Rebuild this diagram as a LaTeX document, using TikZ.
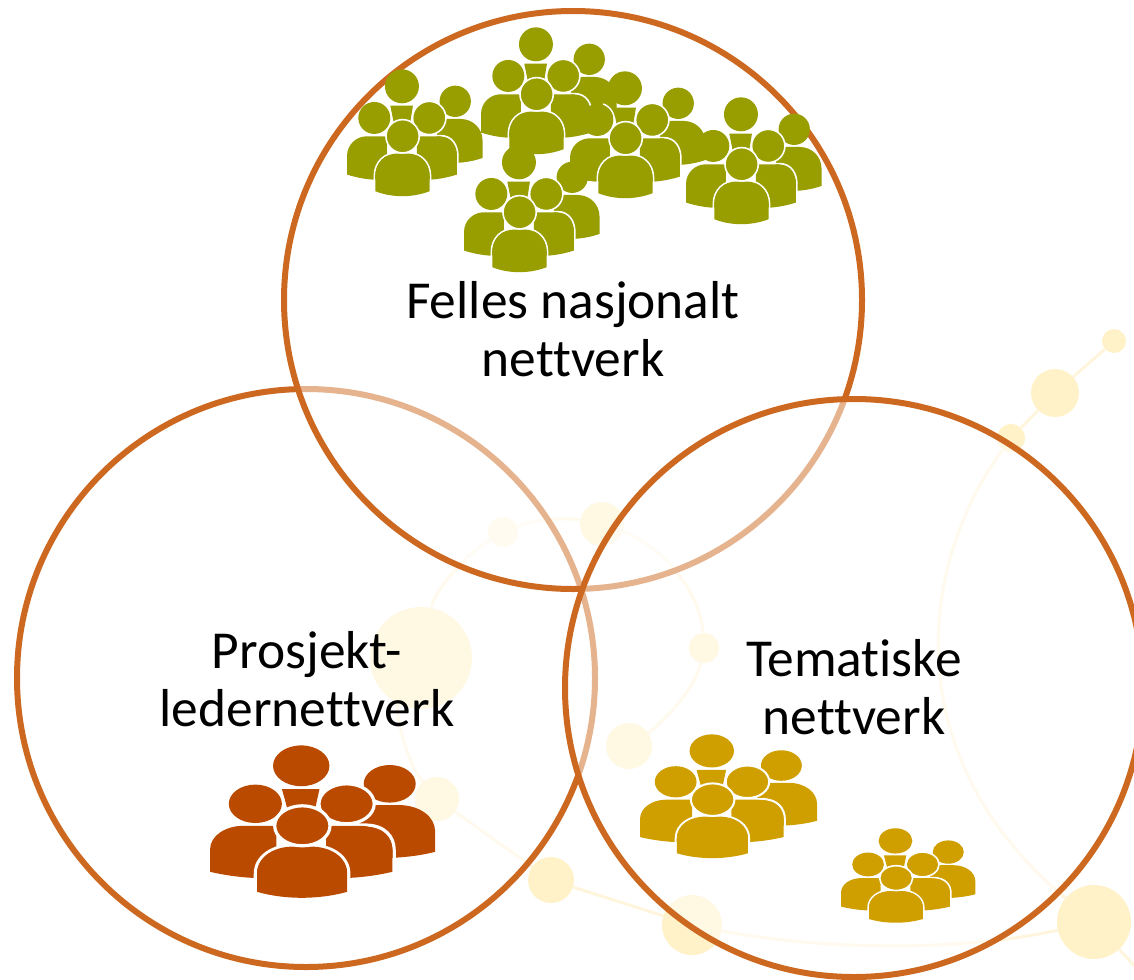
\documentclass[tikz,border=0pt]{standalone}
\usepackage{fontspec}
\setmainfont[Ligatures=NoCommon]{Carlito}
\usetikzlibrary{calc}

\definecolor{ringcol}{HTML}{CD6820}
\definecolor{dotcol}{HTML}{FFF1C8}
\definecolor{linecol}{HTML}{FFF5DC}
\definecolor{greencol}{HTML}{989D00}
\definecolor{redcol}{HTML}{B94A00}
\definecolor{goldcol}{HTML}{CF9F00}

\tikzset{
    people/.pic={
        % far person
        \fill[#1] (325,97) circle[radius=47];
        \fill[#1] (270,150) -- (340,150) .. controls (380,150) and (407,180) .. (407,215) -- (407,267) .. controls (385,275) and (360,280) .. (330,282) -- (270,282) -- cycle;
        \draw[white] (247,200) -- (280,200) .. controls (317,200) and (333,230) .. (333,262) -- (333,322);
        % back person
        \fill[#1] (165,52) circle[radius=51];
        \fill[#1] (130,110) -- (198,110) -- (190,160) -- (140,160) -- cycle;
        % middle persons
        \fill[#1] (0,317) -- (0,262) .. controls (0,225) and (30,202) .. (60,202) -- (120,202) -- (120,330) -- (75,332) .. controls (50,330) and (25,325) .. (0,317) -- cycle;
        \fill[#1] (330,317) -- (330,262) .. controls (330,225) and (300,202) .. (270,202) -- (210,202) -- (210,330) -- (255,332) .. controls (280,330) and (305,325) .. (330,317) -- cycle;
        \draw[white] (82,147) ++(-70:51) arc[start angle=-70, end angle=70, radius=51];
        \fill[#1] (82,147) circle[radius=48];
        \draw[white, fill=#1] (247,147) circle[radius=50];
        % front person
        \draw[white] (82,335) -- (82,322) .. controls (82,277) and (115,251) .. (150,251) -- (183,251) .. controls (218,251) and (251,277) .. (251,322) -- (251,335);
        \fill[#1] (85,335) -- (85,322) .. controls (85,280) and (115,254) .. (150,254) -- (183,254) .. controls (218,254) and (248,280) .. (248,322) -- (248,367) .. controls (220,378) and (190,382) .. (166,382) .. controls (142,382) and (112,378) .. (85,367) -- cycle;
        \draw[white, fill=#1] (167,202) circle[radius=50];
    }
}

\begin{document}
\begin{tikzpicture}[
    x=0.5pt, y=-0.5pt,
    dot/.style={circle, fill=dotcol, inner sep=0pt},
    link/.style={draw=linecol, line width=1.5pt},
    ring/.style={circle, draw=ringcol, line width=3pt, fill=white, fill opacity=0.5, draw opacity=1, inner sep=0pt, minimum size=289pt},
    label/.style={align=center, font=\fontsize{26.7}{29}\selectfont}
]
\useasboundingbox (0,0) rectangle (1134,979);
\clip (0,0) rectangle (1134,979);

% Background dots
\node[dot, minimum size=12pt] (d1) at (1114,341) {};
\node[dot, minimum size=24pt] (d2) at (1055,393) {};
\node[dot, minimum size=14pt] (d3) at (1011,438) {};
\node[dot, minimum size=22pt] (d4) at (602,524) {};
\node[dot, minimum size=15pt] (d5) at (503,532) {};
\node[dot, minimum size=51pt] (d6) at (421,658) {};
\node[dot, minimum size=15pt] (d7) at (704,648) {};
\node[dot, minimum size=23pt] (d8) at (629,746) {};
\node[dot, minimum size=22pt] (d9) at (437,799) {};
\node[dot, minimum size=23pt] (d10) at (551,880) {};
\node[dot, minimum size=30pt] (d11) at (692,925) {};
\node[dot, minimum size=37pt] (d12) at (1094,922) {};
\coordinate (corner) at (1140,972);

% Background lines
\draw[link] (d1) -- (d2);
\draw[link] (d2) -- (d3);
\draw[link] (d3) .. controls (915,570) and (900,760) .. (d12);
\draw[link] (d5) .. controls (540,518) and (570,518) .. (d4);
\draw[link] (d4) .. controls (660,545) and (700,590) .. (d7);
\draw[link] (d7) .. controls (695,690) and (660,725) .. (d8);
\draw[link] (d5) .. controls (465,555) and (435,590) .. (d6);
\draw[link] (d6) .. controls (395,710) and (405,760) .. (d9);
\draw[link] (d9) -- (d10);
\draw[link] (d10) -- (d11);
\draw[link] (d11) .. controls (820,950) and (960,952) .. (d12);
\draw[link] (d12) -- (corner);

% Circles, later ones pale the earlier ones
\node[ring] (ledere) at (306,678) {};
\node[ring] (felles) at (573,300) {};
\node[ring] (tema) at (854,688) {};

% Labels
\node[label] (fellestxt) at (573,329) {Felles nasjonalt\\nettverk};
\node[label] (lederetxt) at (307,679) {Prosjekt-\\ledernettverk};
\node[label] (tematxt) at (854,687) {Tematiske\\nettverk};

% People groups
\pic[xscale=0.333, yscale=0.333, line width=0.8pt] at (464,145) {people=greencol};
\pic[xscale=0.333, yscale=0.333, line width=0.8pt] at (347,69) {people=greencol};
\pic[xscale=0.333, yscale=0.333, line width=0.8pt] at (481,27) {people=greencol};
\pic[xscale=0.333, yscale=0.333, line width=0.8pt] at (570,71) {people=greencol};
\pic[xscale=0.333, yscale=0.333, line width=0.8pt] at (686,97) {people=greencol};
\pic[xscale=0.553, yscale=0.400, line width=1.6pt] at (210,745) {people=redcol};
\pic[xscale=0.435, yscale=0.325, line width=1pt] at (640,734) {people=goldcol};
\pic[xscale=0.330, yscale=0.248, line width=0.8pt] at (841,828) {people=goldcol};

\end{tikzpicture}
\end{document}
